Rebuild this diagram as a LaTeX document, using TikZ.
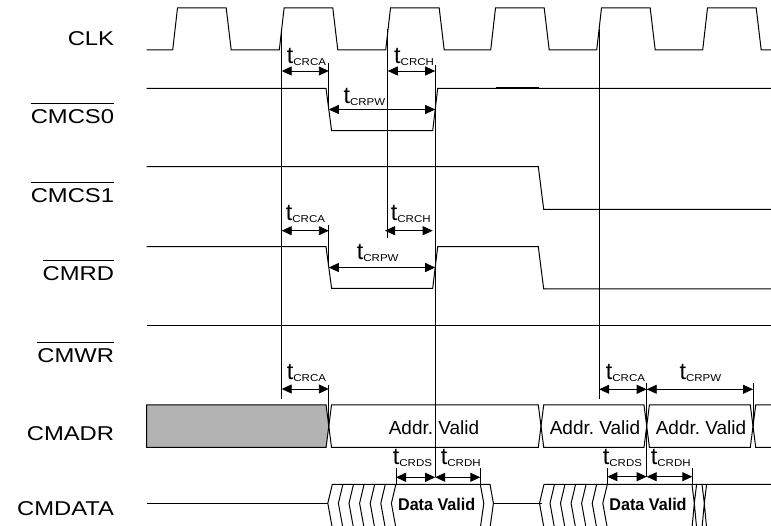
\documentclass[tikz,border=0pt]{standalone}
\usepackage{fontspec}
\setmainfont{Liberation Sans}
\usepackage{graphicx}
\usetikzlibrary{arrows.meta}
\definecolor{busgray}{RGB}{179,179,179}
\newcommand{\sglab}[1]{\scalebox{1.19}[1]{\fontsize{20}{24}\selectfont #1}}
\newcommand{\tsub}[1]{{\fontsize{23.5}{26}\selectfont t}\raisebox{-2pt}{\scalebox{1.15}[1]{\fontsize{10}{12}\selectfont #1}}}
\newcommand{\dvtext}{\scalebox{0.95}[1]{\fontsize{17}{20}\selectfont\bfseries Data Valid}}
\tikzset{
  sig/.style={line width=1pt, line join=miter},
  dimarrow/.style={line width=0.9pt, {Triangle[length=10pt,width=9pt]}-{Triangle[length=10pt,width=9pt]}},
  extl/.style={line width=0.9pt},
  siglabel/.style={inner sep=0pt, anchor=base east},
  tlabel/.style={inner sep=0pt, anchor=base west},
  ovl/.style={line width=0.9pt},
  buslabel/.style={inner sep=0pt, anchor=base, font=\fontsize{19}{22}\selectfont},
  datalabel/.style={inner sep=0pt, anchor=base},
}
\begin{document}
\begin{tikzpicture}[x=1pt,y=-1pt]
\useasboundingbox (0,0) rectangle (771,526);
\clip (0,0) rectangle (771,526);
\fill[white] (0,0) rectangle (771,526);

% ---------- signal names ----------
\node[siglabel] (lclk) at (114.3,45.7) {\sglab{CLK}};
\node[siglabel] (lcs0) at (114.3,123.3) {\sglab{CMCS0}};
\node[siglabel] (lcs1) at (114.3,202.8) {\sglab{CMCS1}};
\node[siglabel] (lrd)  at (114.3,280.6) {\sglab{CMRD}};
\node[siglabel] (lwr)  at (114.3,362.5) {\sglab{CMWR}};
\node[siglabel] (ladr) at (114.3,440.5) {\sglab{CMADR}};
\node[siglabel] (ldat) at (114.3,515) {\sglab{CMDATA}};
\foreach \n in {lcs0,lcs1,lrd,lwr}
  \draw[ovl] ([yshift=20pt]\n.base west) -- ([yshift=20pt]\n.base east);

% ---------- CLK ----------
\draw[sig] (146.7,50)
  \foreach \r in {172.7,279.3,385.7,490.7,596.7,702.7} {
    -- (\r,50) -- ({\r+4.8},8) -- ({\r+53.5},8) -- ({\r+58.5},50) }
  -- (771,50);

% ---------- CMCS0 ----------
\draw[sig] (146.7,88.3) -- (326,88.3) -- (331.6,130.7) -- (432.7,130.7)
  -- (437.7,88.3) -- (771,88.3);
\draw[line width=2pt] (496,88.3) -- (539,88.3);

% ---------- CMCS1 ----------
\draw[sig] (146.7,166.7) -- (538.3,166.7) -- (543.7,209.3) -- (771,209.3);

% ---------- CMRD ----------
\draw[sig] (146.7,246.7) -- (326,246.7) -- (331.6,288.3) -- (432.7,288.3)
  -- (437.7,246.7) -- (538.3,246.7) -- (543.7,289) -- (771,289);

% ---------- CMWR ----------
\draw[sig] (146.7,325.7) -- (771,325.7);

% ---------- CMADR ----------
\filldraw[sig, fill=busgray] (146.7,405) -- (326.1,405) -- (328.8,426.2)
  -- (326.1,447.3) -- (146.7,447.3) -- cycle;
\draw[sig] (331.5,405) -- (538.3,405) -- (541,426.2) -- (538.3,447.3)
  -- (331.5,447.3) -- (328.8,426.2) -- cycle;
\draw[sig] (543.7,405) -- (644,405) -- (646.7,426.2) -- (644,447.3)
  -- (543.7,447.3) -- (541,426.2) -- cycle;
\draw[sig] (649.4,405) -- (750.3,405) -- (753,426.2) -- (750.3,447.3)
  -- (649.4,447.3) -- (646.7,426.2) -- cycle;
\draw[sig] (780,405) -- (755.7,405) -- (753,426.2) -- (755.7,447.3) -- (780,447.3);
\node[buslabel] (av1) at (434,434) {Addr.\ Valid};
\node[buslabel] (av2) at (595,434) {Addr.\ Valid};
\node[buslabel] (av3) at (701,434) {Addr.\ Valid};

% ---------- CMDATA ----------
\draw[sig] (146.7,503.3) -- (327.8,503.3);
\draw[sig] (332.3,484.3) -- (490,484.3) -- (493.4,503.3) -- (490,528) -- (332.3,528)
  -- (327.8,503.3) -- cycle;
\foreach \x in {342.9,353.5,364.1,374.7,385.3,395.9}
  \draw[sig] (\x,484.3) -- ({\x-4.5},503.3) -- (\x,528);
\draw[sig] (480.3,484.3) -- (483.8,503.3) -- (480.3,528);
\draw[sig] (493.4,503.3) -- (541.5,503.3);
\draw[sig] (780,484.3) -- (544,484.3) -- (539.5,503.3) -- (544,528) -- (780,528);
\foreach \x in {554.5,565,575.6,586.1,596.7,607.3}
  \draw[sig] (\x,484.3) -- ({\x-4.5},503.3) -- (\x,528);
\foreach \c in {694.3,704.3}
  \draw[sig] ({\c-2.3},484.3) -- (\c,503.3) -- ({\c-2.3},528)
             ({\c+2.3},484.3) -- (\c,503.3) -- ({\c+2.3},528);
\node[datalabel] (dv1) at (436.7,510.7) {\dvtext};
\node[datalabel] (dv2) at (648,510.7) {\dvtext};

% ---------- reference / extension lines ----------
\draw[extl] (281.7,29) -- (281.7,399);
\draw[extl] (387.8,29) -- (387.8,238.3);
\draw[extl] (599.2,29) -- (599.2,399);
\draw[extl] (435.2,65) -- (435.2,477.3);
\draw[extl] (328.8,63) -- (328.8,109.5);
\draw[extl] (328.8,225) -- (328.8,267.5);
\draw[extl] (328.8,385) -- (328.8,426.2);
\draw[extl] (646.7,383) -- (646.7,477);
\draw[extl] (753,383) -- (753,426.2);
\foreach \x in {396,480.3,607.3,692.3}
  \draw[extl] (\x,468) -- (\x,484.3);

% ---------- timing arrows ----------
\draw[dimarrow] (281.7,71) -- (328.8,71);
\draw[dimarrow] (387.8,71) -- (435.2,71);
\draw[dimarrow] (328.8,109.5) -- (435.2,109.5);
\draw[dimarrow] (281.7,230.7) -- (328.8,230.7);
\draw[dimarrow] (385,230.7) -- (432.7,230.7);
\draw[dimarrow] (328.8,267.5) -- (435.2,267.5);
\draw[dimarrow] (281.7,389) -- (328.8,389);
\draw[dimarrow] (599.2,389.3) -- (646.7,389.3);
\draw[dimarrow] (646.7,389.3) -- (753,389.3);
\draw[dimarrow] (396,477.3) -- (435.2,477.3);
\draw[dimarrow] (435.2,477.3) -- (480.3,477.3);
\draw[dimarrow] (607.3,476.7) -- (646.7,476.7);
\draw[dimarrow] (646.7,476.7) -- (692.3,476.7);

% ---------- timing labels ----------
\node[tlabel] (ta1) at (286.7,63.3) {\tsub{CRCA}};
\node[tlabel] (th1) at (394,63.3) {\tsub{CRCH}};
\node[tlabel] (tp1) at (343.3,104) {\tsub{CRPW}};
\node[tlabel] (ta2) at (285.7,221) {\tsub{CRCA}};
\node[tlabel] (th2) at (390.7,221) {\tsub{CRCH}};
\node[tlabel] (tp2) at (356.7,260) {\tsub{CRPW}};
\node[tlabel] (ta3) at (286.7,380) {\tsub{CRCA}};
\node[tlabel] (ta4) at (605.7,379.3) {\tsub{CRCA}};
\node[tlabel] (tp3) at (679.3,379.3) {\tsub{CRPW}};
\node[tlabel] (ts1) at (392.7,464.3) {\tsub{CRDS}};
\node[tlabel] (tq1) at (440.7,464.3) {\tsub{CRDH}};
\node[tlabel] (ts2) at (602.7,464.5) {\tsub{CRDS}};
\node[tlabel] (tq2) at (650.7,464.5) {\tsub{CRDH}};
\end{tikzpicture}
\end{document}
